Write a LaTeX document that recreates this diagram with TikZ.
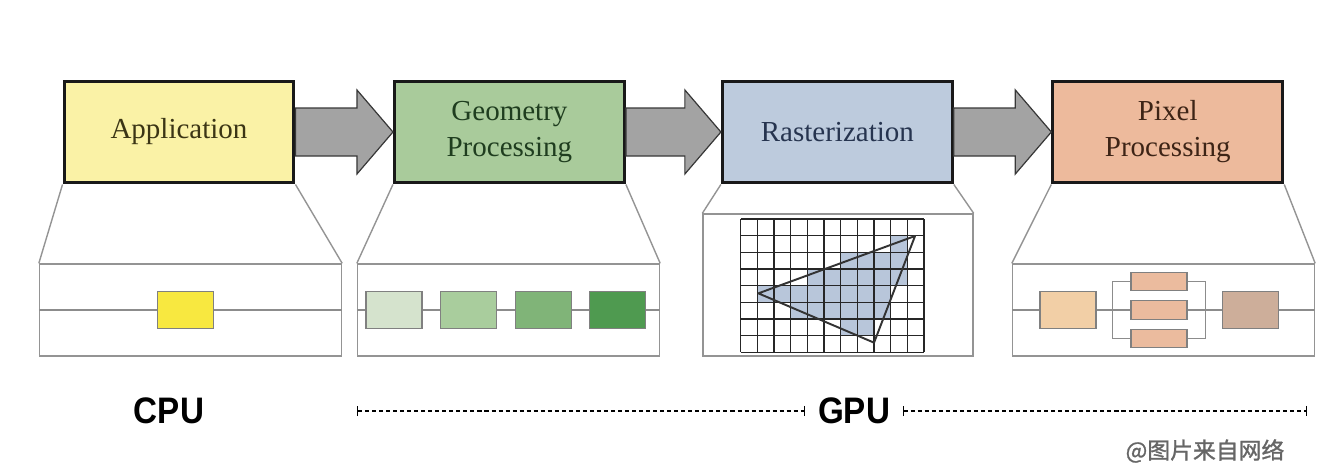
\documentclass[tikz,border=0pt]{standalone}
\usepackage{fontspec}
\setmainfont{Liberation Serif}
\newfontfamily\labelfont[FakeStretch=0.9]{Liberation Sans}
\newfontfamily\cjkfont[FakeBold=1.2]{Noto Sans CJK SC}
\usetikzlibrary{positioning,calc,arrows.meta}
\definecolor{appfill}{HTML}{FAF2A6}
\definecolor{geofill}{HTML}{A9CB9B}
\definecolor{rasfill}{HTML}{BDCBDD}
\definecolor{pixfill}{HTML}{EDBA9C}
\definecolor{apptext}{HTML}{3B3515}
\definecolor{geotext}{HTML}{1F3D1F}
\definecolor{rastext}{HTML}{26344F}
\definecolor{pixtext}{HTML}{3D2416}
\definecolor{arrowgray}{HTML}{A3A3A3}
\definecolor{cpuyellow}{HTML}{F8E840}
\definecolor{geoA}{HTML}{D5E3CD}
\definecolor{geoB}{HTML}{A9CD9D}
\definecolor{geoC}{HTML}{80B478}
\definecolor{geoD}{HTML}{4F9A50}
\definecolor{pixA}{HTML}{F2CFA6}
\definecolor{pixB}{HTML}{EBBB9E}
\definecolor{pixC}{HTML}{CDAE9A}
\definecolor{cellblue}{HTML}{B8C6DA}

\begin{document}
\begin{tikzpicture}[x=0.02cm,y=-0.02cm]
  \tikzset{stage/.style={draw=black!90,line width=1.7pt,minimum width=4.6cm,minimum height=2.04cm,align=center,font=\fontsize{16.5}{20.5}\selectfont}}
  \tikzset{panel/.style={draw=black!42,line width=0.8pt,minimum width=6.04cm,minimum height=1.84cm,inner sep=0pt}}
  \tikzset{zoomline/.style={draw=black!42,line width=0.8pt}}
  \tikzset{wire/.style={draw=black!45,line width=0.7pt}}
  \tikzset{unit/.style={draw=black!50,line width=0.6pt,minimum width=1.12cm,minimum height=0.74cm,inner sep=0pt}}
  \tikzset{slim/.style={unit,minimum height=0.37cm}}
  \tikzset{bigarrow/.style={fill=arrowgray,draw=black!78,line width=0.7pt}}
  \tikzset{gridline/.style={draw=black!85,line width=0.65pt}}
  \tikzset{unitlabel/.style={font=\labelfont\bfseries\fontsize{21}{21}\selectfont,inner xsep=7pt,inner ysep=0pt}}
  \tikzset{span/.style={draw=black,line width=0.75pt,dash pattern=on 2.3pt off 1.7pt,{Bar[width=5.7pt]}-{Bar[width=5.7pt]}}}

  \useasboundingbox (0,0) rectangle (1341,473);

  \node[stage,fill=appfill,text=apptext] (app) at (179,132) {Application};
  \node[stage,fill=geofill,text=geotext,right=1.95cm of app] (geo) {Geometry\\Processing};
  \node[stage,fill=rasfill,text=rastext,right=1.9cm of geo] (ras) {Rasterization};
  \node[stage,fill=pixfill,text=pixtext,right=1.95cm of ras] (pix) {Pixel\\Processing};

  \foreach \a/\b in {app/geo,geo/ras,ras/pix}
    \draw[bigarrow] ($(\a.east)+(0,-24)$) -- ($(\b.west)+(-36,-24)$) -- ++(0,-18) -- (\b.west)
      -- ++(-36,42) -- ++(0,-18) -- ($(\a.east)+(0,24)$) -- cycle;

  \node[panel] (app-p) at (190.5,310) {};
  \node[panel] (geo-p) at (508.5,310) {};
  \node[panel,minimum width=5.4cm,minimum height=2.84cm] (ras-p) at (838,285) {};
  \node[panel] (pix-p) at (1163.5,310) {};

  \foreach \s in {app,geo,ras,pix}
    \draw[zoomline] (\s.south west) -- (\s-p.north west) (\s.south east) -- (\s-p.north east);

  \draw[wire] (app-p.west) -- (app-p.east);
  \draw[wire] (geo-p.west) -- (geo-p.east);
  \draw[wire] (pix-p.west) -- (pix-p.east);

  \node[unit,fill=cpuyellow] (cpu-u) at (185.5,310) {};

  \node[unit,fill=geoA] (g1) at (394,310) {};
  \node[unit,fill=geoB,right=0.35cm of g1] (g2) {};
  \node[unit,fill=geoC,right=0.35cm of g2] (g3) {};
  \node[unit,fill=geoD,right=0.35cm of g3] (g4) {};

  \node[unit,fill=pixA] (pa) at (1068,310) {};
  \node[slim,fill=pixB] (pb2) at (1159,310) {};
  \node[slim,fill=pixB,above=0.18cm of pb2] (pb1) {};
  \node[slim,fill=pixB,below=0.18cm of pb2] (pb3) {};
  \node[unit,fill=pixC] (pc) at (1250.5,310) {};
  \draw[wire] (pb1.west) -- ++(-18,0) |- (pb3.west);
  \draw[wire] (pb1.east) -- ++(18,0) |- (pb3.east);

  \begin{scope}[shift={(740.7,219)},x=0.3334cm,y=-0.3334cm]
    \foreach \r/\a/\b in {1/9/9,2/6/9,3/4/9,4/1/8,5/3/8,6/6/7}
      \fill[cellblue] (\a,\r) rectangle (\b+1,\r+1);
    \foreach \i in {0,...,11}
      \draw[gridline] (\i,0) -- (\i,8);
    \foreach \j in {0,...,8}
      \draw[gridline] (0,\j) -- (11,\j);
    \coordinate (ta) at (1.06,4.46);
    \coordinate (tb) at (10.46,1.02);
    \coordinate (tc) at (8.0,7.42);
    \draw[draw=black!80,line width=1.1pt,line join=round] (ta) -- (tb) -- (tc) -- cycle;
  \end{scope}

  \node[unitlabel] (cpu) at (169,411) {CPU};
  \node[unitlabel] (gpu) at (854,411) {GPU};
  \coordinate (gl) at (357,411);
  \coordinate (gr) at (1307,411);
  \draw[span] (gl) -- (gpu);
  \draw[span] (gpu) -- (gr);

  \node[font=\cjkfont\fontsize{13}{13}\selectfont,text=black!60] (mark) at (1205,451) {@图片来自网络};
\end{tikzpicture}
\end{document}
